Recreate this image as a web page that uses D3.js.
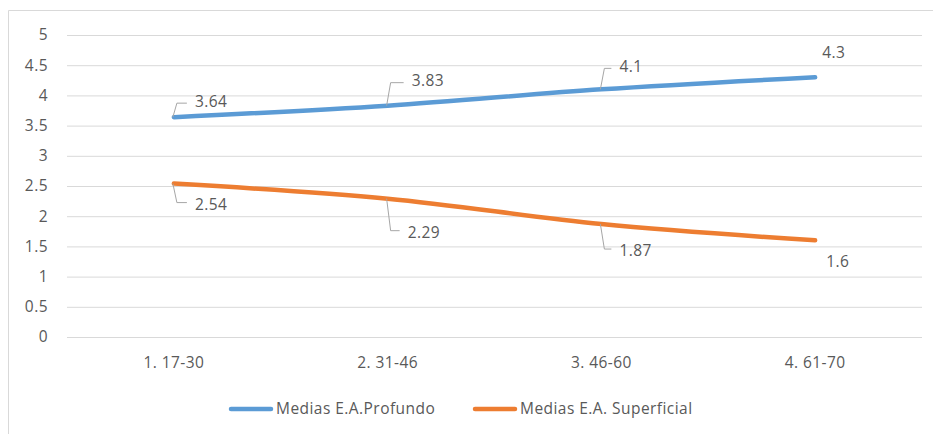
<!DOCTYPE html>
<html>
<head>
<meta charset="utf-8">
<script src="https://cdn.jsdelivr.net/npm/d3@7"></script>
<style>
  body { margin: 0; background: #fff; }
  svg { display: block; font-family: "Open Sans", "Liberation Sans", sans-serif; }
  .lbl { font-size: 15.5px; letter-spacing: 0.45px; }
</style>
</head>
<body>
<svg id="chart" width="933" height="434"></svg>
<script>
// Age groups on the x axis
const categories = ["1. 17-30", "2. 31-46", "3. 46-60", "4. 61-70"];
// Mean scores per age group
const profundo = [3.64, 3.83, 4.1, 4.3];
const superficial = [2.54, 2.29, 1.87, 1.6];
const seriesNames = ["Medias E.A.Profundo", "Medias E.A. Superficial"];
const yTicks = [0, 0.5, 1, 1.5, 2, 2.5, 3, 3.5, 4, 4.5, 5];

const colors = ["#5B9BD5", "#ED7D31"];
const textColor = "#595959";
const gridColor = "#D9D9D9";

const svg = d3.select("#chart");

// chart frame (top and left edges visible)
svg.append("line").attr("x1", 8.5).attr("x2", 933).attr("y1", 10.5).attr("y2", 10.5)
  .attr("stroke", gridColor).attr("stroke-width", 1);
svg.append("line").attr("x1", 8.5).attr("x2", 8.5).attr("y1", 10.5).attr("y2", 434)
  .attr("stroke", gridColor).attr("stroke-width", 1);

const plot = { left: 67, right: 922, top: 35, bottom: 337 };

const x = d3.scaleBand().domain(categories).range([plot.left, plot.right]);
const y = d3.scaleLinear().domain([0, 5]).range([plot.bottom, plot.top]);
const cx = d => x(d) + x.bandwidth() / 2;

// horizontal gridlines + y labels
const yAxis = d3.axisLeft(y).tickValues(yTicks).tickSize(-(plot.right - plot.left))
  .tickPadding(19).tickFormat(d3.format("~g"));
const gy = svg.append("g").attr("transform", `translate(${plot.left},0)`).call(yAxis);
gy.select(".domain").remove();
gy.selectAll(".tick line").attr("stroke", gridColor).attr("stroke-width", 1);
gy.selectAll(".tick text").attr("fill", textColor).attr("class", "lbl").attr("font-size", null);

// x labels
const xAxis = d3.axisBottom(x).tickSize(0).tickPadding(20);
const gx = svg.append("g").attr("transform", `translate(0,${plot.bottom})`).call(xAxis);
gx.select(".domain").remove();
gx.selectAll(".tick text").attr("fill", textColor).attr("class", "lbl");
gy.attr("font-size", null).attr("font-family", null);
gx.attr("font-size", null).attr("font-family", null);

const line = d3.line()
  .x((d, i) => cx(categories[i]))
  .y(d => y(d))
  .curve(d3.curveMonotoneX);

[profundo, superficial].forEach((vals, s) => {
  svg.append("path").datum(vals)
    .attr("d", line)
    .attr("fill", "none")
    .attr("stroke", colors[s])
    .attr("stroke-width", 4.5)
    .attr("stroke-linecap", "round");
});

// data labels with leader lines: [dx of label start, dy of label centre, leader?]
const labelOffsets = [
  [[21, -16, true], [24, -25, true], [18, -23, true], [7, -25, false]],
  [[21, 21, true], [20, 34, true], [18, 27, true], [11, 21, false]]
];

[profundo, superficial].forEach((vals, s) => {
  const g = svg.append("g");
  vals.forEach((v, i) => {
    const px = cx(categories[i]);
    const py = y(v);
    const [dx, dy, leader] = labelOffsets[s][i];
    const lx = px + dx;
    const ly = py + dy;
    if (leader) {
      const up = dy < 0 ? 1 : -1;
      g.append("path")
        .attr("d", `M${px - 1},${py} L${px + 3},${ly + up * 2} L${lx - 8},${ly + up * 2}`)
        .attr("fill", "none")
        .attr("stroke", "#A6A6A6")
        .attr("stroke-width", 1);
    }
    g.append("text")
      .attr("class", "lbl")
      .attr("x", lx)
      .attr("y", ly)
      .attr("dy", "0.35em")
      .attr("fill", textColor)
      .text(d3.format("~g")(v));
  });
});

// legend
const legend = [
  { x: 229, name: seriesNames[0], color: colors[0] },
  { x: 473, name: seriesNames[1], color: colors[1] }
];
legend.forEach(l => {
  svg.append("line")
    .attr("x1", l.x + 2).attr("x2", l.x + 42).attr("y1", 409).attr("y2", 409)
    .attr("stroke", l.color).attr("stroke-width", 4.5).attr("stroke-linecap", "round");
  svg.append("text")
    .attr("class", "lbl")
    .attr("x", l.x + 47).attr("y", 409).attr("dy", "0.35em")
    .attr("fill", textColor)
    .text(l.name);
});
</script>
</body>
</html>
